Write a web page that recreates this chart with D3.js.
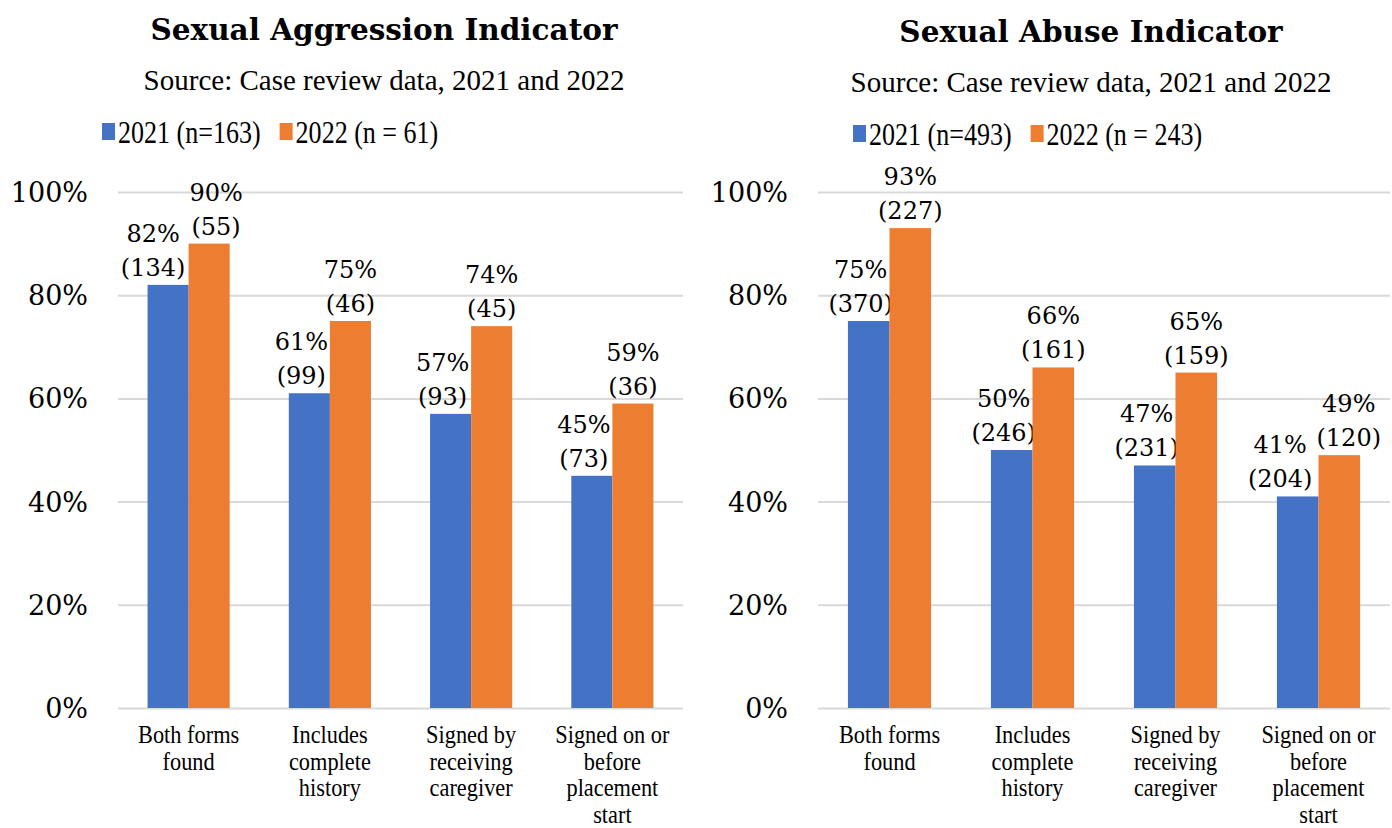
<!DOCTYPE html>
<html>
<head>
<meta charset="utf-8">
<script src="https://cdn.jsdelivr.net/npm/d3@7"></script>
<style>
  body { margin: 0; background: #fff; }
  svg { display: block; }
</style>
</head>
<body>
<svg id="chart" width="1392" height="828"></svg>
<script>
// categories shared by both panels
var categories = [
	['Both forms', 'found'],
	['Includes', 'complete', 'history'],
	['Signed by', 'receiving', 'caregiver'],
	['Signed on or', 'before', 'placement', 'start']
];
var yTicks = [0, 20, 40, 60, 80, 100];

// Sexual Aggression Indicator
var aggr2021 = [82, 61, 57, 45];
var aggr2021n = [134, 99, 93, 73];
var aggr2022 = [90, 75, 74, 59];
var aggr2022n = [55, 46, 45, 36];

// Sexual Abuse Indicator
var abuse2021 = [75, 50, 47, 41];
var abuse2021n = [370, 246, 231, 204];
var abuse2022 = [93, 66, 65, 49];
var abuse2022n = [227, 161, 159, 120];

var blue = '#4472c4', orange = '#ed7d31';
var numFont = 'DejaVu Serif', textFont = 'Liberation Serif';

var svg = d3.select('#chart');

// serif text that is a bit narrower than the font, like the original
function squeezed(parent, x, y, sx, size, anchor) {
	return parent.append('g')
		.attr('transform', 'translate(' + x + ',' + y + ') scale(' + sx + ',1)')
		.append('text')
		.attr('text-anchor', anchor || 'start')
		.style('font-family', textFont).style('font-size', size + 'px');
}

function overlap(a, b) {
	return a.x < b.x + b.width && b.x < a.x + a.width && a.y < b.y + b.height && b.y < a.y + a.height;
}

function drawPanel(opts) {
	var g, x, xSub, y, yAxis, labels = [[], []];

	g = svg.append('g');

	// title + source
	g.append('text')
		.attr('x', opts.cx).attr('y', opts.titleY)
		.attr('text-anchor', 'middle')
		.style('font-family', numFont).style('font-weight', 'bold').style('font-size', '29.5px')
		.text(opts.title);
	g.append('text')
		.attr('x', opts.cx).attr('y', opts.titleY + 50)
		.attr('text-anchor', 'middle')
		.style('font-family', textFont).style('font-size', '29px')
		.text('Source: Case review data, 2021 and 2022');

	// legend
	var items = [[blue, opts.labels[0]], [orange, opts.labels[1]]];
	var lx = opts.legendX, ly = opts.titleY + 103;
	items.forEach(function(it) {
		g.append('rect').attr('x', lx).attr('y', ly - 20).attr('width', 13).attr('height', 17).attr('fill', it[0]);
		var t = squeezed(g, lx + 16, ly, 0.84, 31).text(it[1]);
		lx += 16 + t.node().getComputedTextLength() * 0.84 + 19;
	});

	// scales
	x = d3.scaleBand().domain(d3.range(categories.length)).range([opts.x0, opts.x1]);
	xSub = d3.scaleBand().domain([0, 1]).range([0, x.bandwidth()]).paddingOuter(0.72);
	y = d3.scaleLinear().domain([0, 100]).range([708, 192]);

	// gridlines + tick labels
	yAxis = d3.axisLeft(y).tickValues(yTicks).tickSize(-(opts.x1 - opts.x0)).tickFormat(function(d) { return d + '%'; });
	var ax = g.append('g').attr('transform', 'translate(' + opts.x0 + ',0)').call(yAxis);
	ax.select('.domain').remove();
	ax.selectAll('.tick line').attr('stroke', '#d9d9d9').attr('stroke-width', 2);
	ax.selectAll('.tick text')
		.attr('x', -30).attr('dy', '0.35em')
		.style('font-family', numFont).style('font-size', '27px').attr('fill', '#000');

	// bars
	var series = [
		{ vals: opts.v1, ns: opts.n1, color: blue, dx: -8 },
		{ vals: opts.v2, ns: opts.n2, color: orange, dx: 0 }
	];
	series.forEach(function(s, si) {
		var bars = g.append('g').selectAll('g').data(s.vals).enter().append('g');
		bars.append('rect')
			.attr('x', function(d, i) { return x(i) + xSub(si); })
			.attr('y', function(d) { return y(d); })
			.attr('width', xSub.bandwidth())
			.attr('height', function(d) { return y(0) - y(d); })
			.attr('fill', s.color);
		var lab = bars.append('text')
			.attr('text-anchor', 'middle')
			.style('font-family', numFont).style('font-size', '24px');
		lab.append('tspan')
			.attr('x', function(d, i) { return x(i) + xSub(si) + xSub.bandwidth() / 2 + s.dx; })
			.attr('y', function(d) { return y(d) - 43; })
			.text(function(d) { return d + '%'; });
		lab.append('tspan')
			.attr('x', function(d, i) { return x(i) + xSub(si) + xSub.bandwidth() / 2 + s.dx; })
			.attr('y', function(d) { return y(d) - 9; })
			.text(function(d, i) { return '(' + s.ns[i] + ')'; });
		lab.each(function() { labels[si].push(this); });
	});

	// push colliding label pairs apart
	labels[0].forEach(function(a, i) {
		var b = labels[1][i], ba = a.getBBox(), bb = b.getBBox(), shift;
		if (overlap(ba, bb)) {
			shift = (ba.x + ba.width - bb.x) / 2 + 2;
			d3.select(a).attr('transform', 'translate(' + (-shift) + ',0)');
			d3.select(b).attr('transform', 'translate(' + shift + ',0)');
		}
	});

	// category labels
	categories.forEach(function(lines, i) {
		var t = squeezed(g, x(i) + x.bandwidth() / 2, 0, 0.86, 26, 'middle');
		t.selectAll('tspan').data(lines).enter().append('tspan')
			.attr('x', 0)
			.attr('y', function(d, j) { return 743.5 + j * 26.5; })
			.text(function(d) { return d; });
	});
}

drawPanel({
	title: 'Sexual Aggression Indicator', cx: 384, titleY: 40, legendX: 102,
	labels: ['2021 (n=163)', '2022 (n = 61)'],
	x0: 118, x1: 683,
	v1: aggr2021, n1: aggr2021n, v2: aggr2022, n2: aggr2022n
});
drawPanel({
	title: 'Sexual Abuse Indicator', cx: 1091, titleY: 42, legendX: 853,
	labels: ['2021 (n=493)', '2022 (n = 243)'],
	x0: 818, x1: 1390,
	v1: abuse2021, n1: abuse2021n, v2: abuse2022, n2: abuse2022n
});
</script>
</body>
</html>
